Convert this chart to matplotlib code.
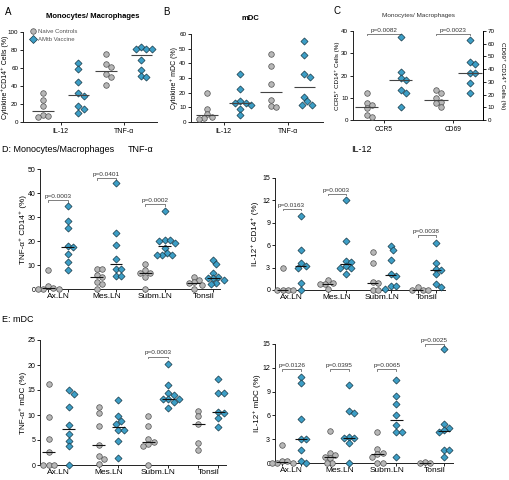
import numpy as np
import matplotlib
matplotlib.use('Agg')
import matplotlib.pyplot as plt
from matplotlib.lines import Line2D

plt.rcParams['font.family'] = ['Liberation Sans', 'DejaVu Sans']

W, H = 509, 480

GREY = '#b7b7b7'
GREY_EDGE = '#505050'
BLUE = '#3c9ec6'
BLUE_EDGE = '#173847'

# ---- data ----
# A: monocytes/macrophages, cytokine+ CD14+ (%)
a_cats = ['IL-12', 'TNF-α']
a_ctrl = [[32.2, 24.6, 17.3, 7.4, 6.7, 5.9],
          [75.2, 65.0, 61.1, 53.1, 50.5, 41.0]]
a_vacc = [[65.7, 58.9, 44.0, 31.8, 28.8, 17.7, 13.9, 9.7],
          [82.9, 81.0, 81.0, 81.0, 68.4, 58.1, 51.6, 50.5]]

# B: mDC, cytokine+ mDC (%)
b_cats = ['IL-12', 'TNF-α']
b_ctrl = [[19.5, 9.0, 5.7, 3.4, 2.5, 2.0],
          [46.5, 38.0, 26.0, 14.9, 10.8, 10.3]]
b_vacc = [[33.0, 22.4, 14.4, 13.2, 13.0, 11.9, 9.0, 4.6],
          [55.4, 46.0, 32.7, 30.5, 17.0, 14.0, 11.4, 11.4]]

# C: CCR5 (left axis) and CD69 (right axis)
c_cats = ['CCR5', 'CD69']
c_ctrl = [[12.2, 7.5, 6.7, 5.2, 2.2, 1.2],
          [23.5, 21.4, 17.0, 14.4, 13.0, 10.0]]
c_vacc = [[37.3, 21.6, 18.7, 17.9, 13.7, 12.2, 6.0],
          [63.0, 45.7, 44.4, 37.0, 37.0, 29.2, 20.9]]
c_pvals = ['p=0.0082', 'p=0.0023']

tissues = ['Ax.LN', 'Mes.LN', 'Subm.LN', 'Tonsil']

# D: monocytes/macrophages in tissues
d_tnf_ctrl = [[7.9, 1.2, 0.5, 0.0, 0.0, 0.0],
              [8.2, 8.2, 5.8, 4.9, 3.1, 1.9, 0.0],
              [10.4, 7.9, 6.8, 6.5, 4.9, 0.0],
              [5.2, 3.6, 2.8, 2.4, 1.7, 0.0]]
d_tnf_vacc = [[34.4, 28.5, 25.3, 18.0, 17.4, 14.6, 11.1, 7.9],
              [44.1, 23.5, 18.4, 12.4, 8.2, 8.2, 5.4, 5.4],
              [32.3, 20.5, 20.5, 19.8, 19.1, 17.0, 15.2, 14.2, 14.2, 14.2],
              [12.1, 10.3, 6.8, 5.2, 4.5, 4.5, 3.8, 2.6, 2.1]]
d_tnf_pvals = ['p=0.0003', 'p=0.0401', 'p=0.0002', None]

d_il12_ctrl = [[2.9, 0.0, 0.0, 0.0, 0.0],
               [1.4, 1.0, 0.8, 0.8, 0.2],
               [5.1, 3.6, 1.1, 0.9, 0.0, 0.0],
               [0.35, 0.0, 0.0, 0.0]]
d_il12_vacc = [[9.9, 5.3, 3.6, 3.2, 3.0, 0.9, 0.0],
               [12.1, 6.6, 3.9, 3.7, 3.2, 2.9, 2.9, 2.2],
               [5.9, 5.3, 4.0, 2.1, 1.9, 0.5, 0.5, 0.1],
               [6.3, 3.6, 2.8, 2.7, 2.1, 0.75, 0.35]]
d_il12_pvals = ['p=0.0163', 'p=0.0003', None, 'p=0.0038']

# E: mDC in tissues
e_tnf_ctrl = [[16.3, 9.6, 5.3, 2.6, 0.0, 0.0, 0.0],
              [11.7, 10.5, 7.9, 4.0, 1.8, 1.2, 0.2],
              [9.8, 7.9, 5.3, 4.7, 4.3, 3.8, 0.0],
              [10.8, 9.8, 8.2, 4.5, 3.1]]
e_tnf_vacc = [[15.0, 14.2, 11.6, 8.0, 6.3, 4.9, 3.8, 0.1],
              [13.1, 9.8, 8.9, 8.2, 7.0, 7.0, 4.9, 1.5],
              [20.3, 16.0, 14.5, 14.0, 13.3, 13.3, 13.3, 12.7, 11.5],
              [17.3, 14.5, 14.5, 10.7, 10.5, 9.5, 7.7]]
e_tnf_pvals = [None, None, 'p=0.0003', None]

e_il12_ctrl = [[2.3, 0.3, 0.3, 0.0, 0.0, 0.0],
               [4.0, 1.3, 1.0, 0.8, 0.6, 0.0, 0.0],
               [3.9, 1.8, 1.3, 1.1, 0.7, 0.0, 0.0],
               [0.1, 0.05, 0.0]]
e_il12_vacc = [[10.9, 10.1, 5.5, 3.0, 3.0, 1.7, 0.3, 0.0],
               [9.8, 6.5, 6.3, 3.3, 3.1, 3.1, 2.5, 0.0],
               [10.5, 8.4, 7.5, 6.0, 4.8, 3.9, 3.9, 0.8],
               [14.4, 4.9, 4.4, 4.1, 3.9, 1.6, 1.6, 0.8]]
e_il12_pvals = ['p=0.0126', 'p=0.0395', 'p=0.0065', 'p=0.0025']


def px_axes(fig, box):
    l, t, r, b = box
    return fig.add_axes([l / W, 1 - b / H, (r - l) / W, (b - t) / H])


def swarm_offsets(values, ppu, diam):
    # simple beeswarm in pixel space, returns x offsets in pixels
    vals = np.asarray(values, float) * ppu
    steps = [0.0]
    for k in range(1, 14):
        steps += [k * 0.5 * diam, -k * 0.5 * diam]
    placed = []
    offs = np.zeros(len(vals))
    for i in np.argsort(-vals, kind='stable'):
        for dx in steps:
            if all((dx - px) ** 2 + (vals[i] - py) ** 2 >= 0.85 * diam ** 2
                   for px, py in placed):
                break
        placed.append((dx, vals[i]))
        offs[i] = dx
    return offs


def draw_group(ax, box, x, values, vaccine, hw, line_color):
    l, t, r, b = box
    x0, x1 = ax.get_xlim()
    y0, y1 = ax.get_ylim()
    ppu_y = (b - t) / (y1 - y0)
    ppu_x = (r - l) / (x1 - x0)
    offs = swarm_offsets(values, ppu_y, 5.2) / ppu_x
    if vaccine:
        ax.scatter(x + offs, values, marker='D', s=13, c=BLUE, edgecolors=BLUE_EDGE,
                   linewidths=0.5, clip_on=False, zorder=3)
    else:
        ax.scatter(x + offs, values, marker='o', s=16, c=GREY, edgecolors=GREY_EDGE,
                   linewidths=0.5, clip_on=False, zorder=3)
    med = np.median(values)
    ax.plot([x - hw, x + hw], [med, med], color=line_color, lw=0.8, zorder=4,
            solid_capstyle='butt', clip_on=False)


def bracket(ax, xa, xb, y, text, tick):
    ax.plot([xa, xa, xb, xb], [y - tick, y, y, y - tick], color='#6a6a6a', lw=0.6,
            clip_on=False, zorder=2)
    ax.text((xa + xb) / 2, y + tick * 0.6, text, ha='center', va='bottom', fontsize=4.6,
            color='#333333')


def style(ax, xlim, ylim, yticks, tick_size=5):
    ax.set_xlim(*xlim)
    ax.set_ylim(*ylim)
    ax.set_yticks(yticks)
    for s in ['top', 'right']:
        ax.spines[s].set_visible(False)
    for s in ['left', 'bottom']:
        ax.spines[s].set_linewidth(0.7)
        ax.spines[s].set_color('#222222')
    ax.tick_params(axis='y', labelsize=tick_size, length=2.5, width=0.6, pad=1.0)
    ax.patch.set_alpha(0)


def set_ylabel_px(ax, box, text, x_px, size, rotation=90):
    l, t, r, b = box
    ax.set_ylabel(text, fontsize=size, rotation=rotation, va='center')
    ax.yaxis.set_label_coords((x_px - l) / (r - l), 0.5)


def two_cat_panel(ax, box, cats, ctrl, vacc, sep, hw, line_color, cat_size):
    ax.set_xticks(range(len(cats)))
    ax.set_xticklabels(cats, fontsize=cat_size)
    ax.tick_params(axis='x', length=2.5, width=0.6, pad=2)
    for i in range(len(cats)):
        draw_group(ax, box, i - sep, ctrl[i], False, hw, line_color)
        draw_group(ax, box, i + sep, vacc[i], True, hw, line_color)


def tissue_panel(ax, box, ctrl, vacc, pvals, pys, ylabel, ylabel_x):
    sep = 0.2
    ax.set_xticks(range(len(tissues)))
    ax.set_xticklabels(tissues, fontsize=6)
    ax.tick_params(axis='x', which='major', length=0, pad=3)
    ax.set_xticks([i + s for i in range(len(tissues)) for s in (-sep, sep)], minor=True)
    ax.tick_params(axis='x', which='minor', length=2.5, width=0.6)
    set_ylabel_px(ax, box, ylabel, ylabel_x, 5.8)
    tick = (ax.get_ylim()[1] - ax.get_ylim()[0]) * 0.015
    for i in range(len(tissues)):
        draw_group(ax, box, i - sep, ctrl[i], False, 0.13, '#111111')
        draw_group(ax, box, i + sep, vacc[i], True, 0.13, '#111111')
        if pvals[i]:
            bracket(ax, i - sep, i + sep, pys[i], pvals[i], tick)


fig = plt.figure(figsize=(W / 100, H / 100), dpi=100)

# ---- A ----
box_a = (23, 32, 157, 122)
ax = px_axes(fig, box_a)
style(ax, (-0.6, 1.53), (0, 100), range(0, 101, 20), tick_size=4.5)
two_cat_panel(ax, box_a, a_cats, a_ctrl, a_vacc, 0.28, 0.17, '#444444', 5)
set_ylabel_px(ax, box_a, 'Cytokine⁺CD14⁺ Cells (%)', 5, 5.0)
ax.legend(handles=[Line2D([], [], marker='o', ls='', ms=4, mfc=GREY, mec=GREY_EDGE, mew=0.5),
                   Line2D([], [], marker='D', ls='', ms=3.6, mfc=BLUE, mec=BLUE_EDGE, mew=0.5)],
          labels=['Naive Controls', 'AMtb Vaccine'], loc='upper left',
          bbox_to_anchor=(0.03, 1.06), frameon=False, fontsize=4.3,
          handletextpad=0.2, labelspacing=0.5, borderaxespad=0, handlelength=1.2,
          labelcolor='#555555')
fig.text(5 / W, 1 - 12 / H, 'A', fontsize=7, va='center')
fig.text(93 / W, 1 - 17 / H, 'Monocytes/ Macrophages', fontsize=5.5, fontweight='bold',
         ha='center', va='center')

# ---- B ----
box_b = (191, 34, 323, 122)
ax = px_axes(fig, box_b)
style(ax, (-0.51, 1.55), (0, 60), range(0, 61, 10), tick_size=4.5)
two_cat_panel(ax, box_b, b_cats, b_ctrl, b_vacc, 0.26, 0.17, '#444444', 5)
set_ylabel_px(ax, box_b, 'Cytokine⁺ mDC (%)', 174, 5.0)
fig.text(163 / W, 1 - 12 / H, 'B', fontsize=7, va='center')
fig.text(250 / W, 1 - 19 / H, 'mDC', fontsize=5.5, fontweight='bold', ha='center', va='center')

# ---- C ----
box_c = (353, 31, 483, 120)
ax = px_axes(fig, box_c)
style(ax, (-0.44, 1.43), (0, 40), range(0, 41, 10), tick_size=4.5)
ax.spines['right'].set_visible(True)
ax.spines['right'].set_linewidth(0.7)
ax.set_xticks(range(2))
ax.set_xticklabels(c_cats, fontsize=4.8)
ax.tick_params(axis='x', length=2.5, width=0.6, pad=2)
set_ylabel_px(ax, box_c, 'CCR5⁺ CD14⁺ Cells (%)', 337, 4.5)
axr = ax.twinx()
axr.set_ylim(0, 70)
axr.set_yticks(range(0, 71, 10))
axr.tick_params(axis='y', labelsize=4.5, length=2.5, width=0.6, pad=1.0)
for s in ['top', 'left', 'bottom']:
    axr.spines[s].set_visible(False)
axr.spines['right'].set_linewidth(0.7)
axr.set_ylabel('CD69⁺ CD14⁺ Cells (%)', fontsize=4.5, rotation=270, va='center')
axr.yaxis.set_label_coords((503 - 353) / 130, 0.5)
draw_group(ax, box_c, -0.245, c_ctrl[0], False, 0.17, '#444444')
draw_group(ax, box_c, 0.245, c_vacc[0], True, 0.17, '#444444')
draw_group(axr, box_c, 1 - 0.245, c_ctrl[1], False, 0.17, '#444444')
draw_group(axr, box_c, 1 + 0.245, c_vacc[1], True, 0.17, '#444444')
for i in range(2):
    bracket(ax, i - 0.245, i + 0.245, 38.6, c_pvals[i], 0.6)
fig.text(334 / W, 1 - 11 / H, 'C', fontsize=7, va='center')
fig.text(418 / W, 1 - 15 / H, 'Monocytes/ Macrophages', fontsize=4.6, ha='center',
         va='center', color='#333333')

# ---- D ----
fig.text(2 / W, 1 - 149 / H, 'D: Monocytes/Macrophages', fontsize=6.5, va='center')
fig.text(128 / W, 1 - 149 / H, 'TNF-α', fontsize=6.5, va='center')
fig.text(361 / W, 1 - 150 / H, 'IL-12', fontsize=6.5, va='center', ha='center')

box_d1 = (40, 169, 220, 289)
ax = px_axes(fig, box_d1)
style(ax, (-0.37, 3.34), (0, 50), range(0, 51, 10))
tissue_panel(ax, box_d1, d_tnf_ctrl, d_tnf_vacc, d_tnf_pvals, [37, 46.3, 35.3, 0],
             'TNF-α⁺ CD14⁺ (%)', 23)

box_d2 = (275, 178, 445, 290)
ax = px_axes(fig, box_d2)
style(ax, (-0.37, 3.41), (0, 15), range(0, 16, 3))
tissue_panel(ax, box_d2, d_il12_ctrl, d_il12_vacc, d_il12_pvals, [10.9, 12.9, 0, 7.3],
             'IL-12⁺ CD14⁺ (%)', 255)

# ---- E ----
fig.text(2 / W, 1 - 320 / H, 'E: mDC', fontsize=6.5, va='center')

box_e1 = (40, 340, 226, 465)
ax = px_axes(fig, box_e1)
style(ax, (-0.37, 3.35), (0, 25), range(0, 26, 5))
tissue_panel(ax, box_e1, e_tnf_ctrl, e_tnf_vacc, e_tnf_pvals, [0, 0, 21.7, 0],
             'TNF-α⁺ mDC (%)', 23)

box_e2 = (275, 344, 453, 463)
ax = px_axes(fig, box_e2)
style(ax, (-0.35, 3.39), (0, 15), range(0, 16, 3))
tissue_panel(ax, box_e2, e_il12_ctrl, e_il12_vacc, e_il12_pvals, [11.8, 11.8, 11.8, 15.0],
             'IL-12⁺ mDC (%)', 257)

fig.savefig('out.png', dpi=100)
